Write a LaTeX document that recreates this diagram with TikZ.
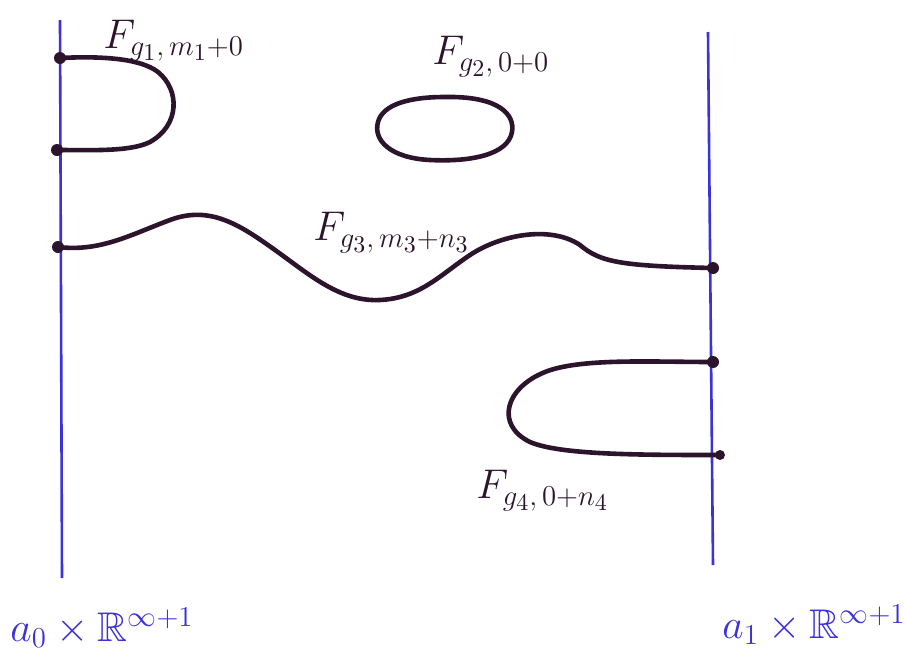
\documentclass[tikz,border=0pt]{standalone}
\usepackage{amssymb}
\begin{document}
\begin{tikzpicture}[x=1pt,y=-1pt,
  wall/.style={draw=penblue,line width=2.6pt},
  surf/.style={draw=inkdark,line width=4.6pt,line cap=round},
  dot/.style={circle,fill=inkdark,inner sep=0pt,minimum size=12pt},
  lab/.style={text=inkdark,font=\LARGE,scale=2.4,transform shape,inner sep=0pt},
  blab/.style={text=penblue,font=\LARGE,scale=2.4,transform shape,inner sep=0pt}]
\definecolor{penblue}{RGB}{60,50,215}
\definecolor{inkdark}{RGB}{45,20,45}
\fill[white] (0,0) rectangle (906,667);
\useasboundingbox (0,0) rectangle (906,667);
% walls
\coordinate (L0) at (60,20); \coordinate (L1) at (62,578);
\coordinate (R0) at (708,32); \coordinate (R1) at (713,565);
\draw[wall] (L0) -- (L1);
\draw[wall] (R0) -- (R1);
% dots
\node[dot] (a1) at (60,58) {};
\node[dot] (a2) at (57,150) {};
\node[dot] (a3) at (58,247) {};
\node[dot] (b1) at (713,268) {};
\node[dot] (b2) at (713,362) {};
\node[dot,minimum size=10pt] (b3) at (720,455) {};
% surface 1
\draw[surf] (a1.center) .. controls (100,56) and (140,58) .. (158,72)
  .. controls (180,90) and (180,125) .. (150,142)
  .. controls (130,152) and (90,150) .. (a2.center);
% surface 2 (closed)
\draw[surf] (445,97) .. controls (500,96) and (515,115) .. (512,132)
  .. controls (508,155) and (470,162) .. (430,160)
  .. controls (390,158) and (373,140) .. (378,122)
  .. controls (383,104) and (410,97) .. (445,97) -- cycle;
% surface 3
\draw[surf] (a3.center) .. controls (100,252) and (130,235) .. (170,220)
  .. controls (210,205) and (240,225) .. (275,250)
  .. controls (310,275) and (340,302) .. (380,300)
  .. controls (420,298) and (440,275) .. (470,255)
  .. controls (500,235) and (550,225) .. (580,245)
  .. controls (600,262) and (620,266) .. (b1.center);
% surface 4
\draw[surf] (b2.center) .. controls (650,362) and (580,358) .. (545,372)
  .. controls (505,388) and (495,425) .. (530,442)
  .. controls (560,455) and (640,455) .. (b3.center);
% labels
\node[lab,anchor=north west] (t1) at (103,20) {$F_{g_1,\,m_1+0}$};
\node[lab,anchor=north west] (t2) at (432,36) {$F_{g_2,\,0+0}$};
\node[lab,anchor=north west] (t3) at (313,212) {$F_{g_3,\,m_3+n_3}$};
\node[lab,anchor=north west] (t4) at (476,470) {$F_{g_4,\,0+n_4}$};
\node[blab,anchor=west] (w0) at (10,628) {$a_0\times\mathbb{R}^{\infty+1}$};
\node[blab,anchor=west] (w1) at (722,625) {$a_1\times\mathbb{R}^{\infty+1}$};
\end{tikzpicture}
\end{document}
